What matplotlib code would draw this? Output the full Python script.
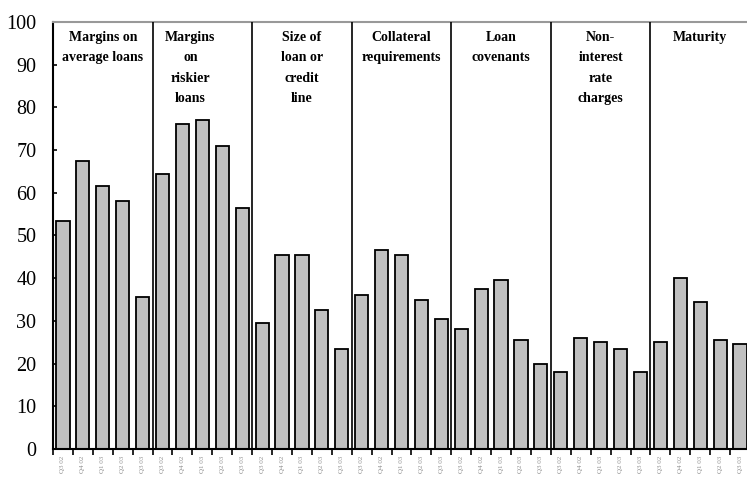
import numpy as np
import matplotlib.pyplot as plt

# percentage of banks reporting tighter terms, five survey rounds per term
terms = ["Margins on\naverage loans", "Margins\non\nriskier\nloans",
         "Size of\nloan or\ncredit\nline", "Collateral\nrequirements",
         "Loan\ncovenants", "Non-\ninterest\nrate\ncharges", "Maturity"]
rounds = ["Q3 02", "Q4 02", "Q1 03", "Q2 03", "Q3 03"]

margins_avg = [53.5, 67.5, 61.5, 58, 35.5]
margins_risk = [64.5, 76, 77, 71, 56.5]
loan_size = [29.5, 45.5, 45.5, 32.5, 23.5]
collateral = [36, 46.5, 45.5, 35, 30.5]
covenants = [28, 37.5, 39.5, 25.5, 20]
charges = [18, 26, 25, 23.5, 18]
maturity = [25, 40, 34.5, 25.5, 24.5]

groups = [margins_avg, margins_risk, loan_size, collateral, covenants, charges, maturity]
values = np.concatenate(groups)
labels = rounds * len(groups)
n = len(rounds)
x = np.arange(len(values))

fig = plt.figure(figsize=(7.47, 4.78), dpi=100)
ax = fig.add_axes([53 / 747, 29 / 478, 697 / 747, 427 / 478])

ax.bar(x, values, width=0.66, color="#c0c0c0", edgecolor="black", linewidth=1.3, zorder=2)

# vertical dividers between the term groups
for k in range(1, len(groups)):
    ax.axvline(k * n - 0.5, color="black", linewidth=1.2, zorder=3)

for k, name in enumerate(terms):
    cx = k * n + (n - 1) / 2
    if k == 1:
        cx -= 0.6
    ax.text(cx, 97.9, name, ha="center", va="top", fontsize=10,
            family="Liberation Serif", fontweight="bold", linespacing=1.75)

ax.set_xlim(-0.5, len(values) - 0.5)
ax.set_ylim(0, 100)
ax.set_yticks(np.arange(0, 101, 10))
ax.set_yticklabels([str(v) for v in range(0, 101, 10)], family="Liberation Serif", fontsize=14.5)
ax.tick_params(axis="y", direction="in", length=3, width=1.2, pad=12)

ax.set_xticks(np.arange(-0.5, len(values), 1), minor=False)
ax.set_xticklabels([])
ax.tick_params(axis="x", direction="out", length=4, width=1.2)
for xi, lab in zip(x, labels):
    ax.text(xi, -1.5, lab, rotation=90, ha="center", va="top", fontsize=5,
            color="#909090", family="Liberation Serif")

ax.spines["left"].set_linewidth(1.5)
ax.spines["bottom"].set_linewidth(1.5)
ax.spines["top"].set_color("#999999")
ax.spines["top"].set_linewidth(1.5)
ax.spines["right"].set_visible(False)

fig.savefig("out.png", dpi=100)
